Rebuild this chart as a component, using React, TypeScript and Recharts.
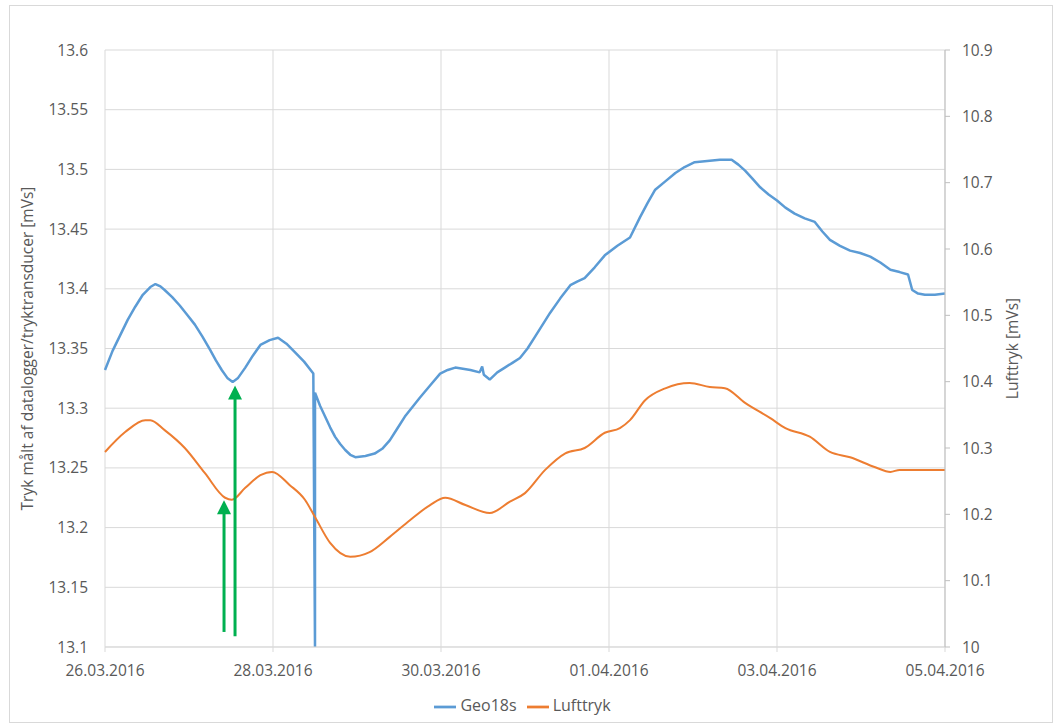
import React from 'react';
import { LineChart, Line, XAxis, YAxis, CartesianGrid, Legend, ReferenceLine } from 'recharts';

// x values are days after 26.03.2016
const geoDays = [0, 0.09, 0.18, 0.27, 0.36, 0.45, 0.54, 0.6, 0.66, 0.71, 0.8, 0.89, 0.98, 1.07, 1.16, 1.25, 1.32, 1.39, 1.46, 1.52, 1.58, 1.67, 1.76, 1.85, 1.96, 2.06, 2.16, 2.26, 2.37, 2.48, 2.5, 2.5, 2.56, 2.62, 2.68, 2.74, 2.8, 2.86, 2.92, 2.98, 3.1, 3.21, 3.3, 3.39, 3.48, 3.57, 3.66, 3.75, 3.87, 3.99, 4.08, 4.17, 4.26, 4.35, 4.46, 4.49, 4.51, 4.58, 4.67, 4.76, 4.85, 4.94, 5.03, 5.12, 5.21, 5.3, 5.42, 5.54, 5.62, 5.71, 5.83, 5.95, 6.1, 6.25, 6.37, 6.46, 6.55, 6.67, 6.79, 6.9, 7.02, 7.17, 7.32, 7.46, 7.54, 7.62, 7.71, 7.8, 7.9, 8.0, 8.1, 8.21, 8.33, 8.45, 8.54, 8.63, 8.75, 8.87, 8.99, 9.11, 9.23, 9.35, 9.46, 9.56, 9.61, 9.68, 9.76, 9.88, 10];
const geoValues = [13.332, 13.348, 13.361, 13.374, 13.385, 13.395, 13.4015, 13.404, 13.402, 13.399, 13.393, 13.386, 13.378, 13.37, 13.36, 13.349, 13.34, 13.332, 13.325, 13.322, 13.325, 13.334, 13.344, 13.353, 13.357, 13.359, 13.354, 13.347, 13.339, 13.329, 13.1, 13.313, 13.302, 13.293, 13.284, 13.276, 13.27, 13.265, 13.261, 13.259, 13.26, 13.262, 13.266, 13.273, 13.283, 13.293, 13.301, 13.309, 13.319, 13.329, 13.332, 13.334, 13.333, 13.332, 13.33, 13.335, 13.328, 13.324, 13.33, 13.334, 13.338, 13.342, 13.35, 13.36, 13.37, 13.38, 13.392, 13.403, 13.406, 13.409, 13.418, 13.428, 13.436, 13.443, 13.46, 13.472, 13.483, 13.49, 13.497, 13.502, 13.506, 13.507, 13.508, 13.508, 13.504, 13.499, 13.492, 13.485, 13.479, 13.474, 13.468, 13.463, 13.459, 13.456, 13.448, 13.441, 13.436, 13.432, 13.43, 13.427, 13.422, 13.416, 13.414, 13.412, 13.399, 13.396, 13.395, 13.395, 13.396];

const luftDays = [0, 0.24, 0.48, 0.54, 0.71, 0.95, 1.19, 1.43, 1.51, 1.67, 1.85, 1.99, 2.2, 2.38, 2.5, 2.68, 2.92, 3.15, 3.39, 3.63, 3.87, 4.05, 4.29, 4.58, 4.82, 5.0, 5.24, 5.48, 5.71, 5.95, 6.13, 6.25, 6.43, 6.67, 6.96, 7.2, 7.38, 7.62, 7.92, 8.1, 8.39, 8.63, 8.87, 9.17, 9.35, 9.46, 10];
const luftValues = [10.294, 10.324, 10.342, 10.342, 10.327, 10.3, 10.262, 10.225, 10.222, 10.24, 10.259, 10.264, 10.244, 10.222, 10.196, 10.157, 10.136, 10.143, 10.166, 10.191, 10.214, 10.225, 10.214, 10.202, 10.219, 10.232, 10.267, 10.292, 10.3, 10.323, 10.33, 10.342, 10.372, 10.39, 10.398, 10.392, 10.39, 10.368, 10.345, 10.33, 10.317, 10.294, 10.286, 10.271, 10.264, 10.267, 10.267];

const dateTicks = [0, 2, 4, 6, 8, 10];
const dateLabels = ['26.03.2016', '28.03.2016', '30.03.2016', '01.04.2016', '03.04.2016', '05.04.2016'];
const leftTicks = [13.1, 13.15, 13.2, 13.25, 13.3, 13.35, 13.4, 13.45, 13.5, 13.55, 13.6];
const rightTicks = [10, 10.1, 10.2, 10.3, 10.4, 10.5, 10.6, 10.7, 10.8, 10.9];

// green arrows: [day, from, to] on the left axis
const arrows = [
  [1.417, 13.1126, 13.223],
  [1.548, 13.109, 13.319],
];

const geoData = geoDays.map((d, i) => ({ d, v: geoValues[i] }));
const luftData = luftDays.map((d, i) => ({ d, v: luftValues[i] }));

const GREEN = '#00B050';
const TXT = '#595959';
const FONT = '"Open Sans", sans-serif';

const Arrow = (props: any) => {
  const { x1, y1, x2, y2 } = props;
  const tipY = Math.min(y1, y2);
  const baseY = Math.max(y1, y2);
  const x = x1;
  return (
    <g>
      <line x1={x} y1={baseY} x2={x2} y2={tipY + 12} stroke={GREEN} strokeWidth={3} />
      <polygon points={`${x},${tipY} ${x - 7},${tipY + 14} ${x + 7},${tipY + 14}`} fill={GREEN} />
    </g>
  );
};

export default function App() {
  return (
    <div style={{ position: 'absolute', left: 0, top: 0, width: 1055, height: 726, background: '#fff', fontFamily: FONT }}>
      <div style={{ position: 'absolute', left: 9, top: 5, width: 1042, height: 716, border: '1px solid #d9d9d9' }} />
      <LineChart width={1055} height={726} margin={{ top: 50, right: 0, bottom: 19, left: 0 }}>
        <CartesianGrid yAxisId="left" stroke="#d9d9d9" strokeWidth={1} />
        <XAxis
          type="number"
          dataKey="d"
          domain={[0, 10]}
          ticks={dateTicks}
          tickFormatter={(v: number) => dateLabels[dateTicks.indexOf(v)]}
          height={30}
          tickSize={5}
          tickMargin={13}
          stroke="#d9d9d9"
          tick={{ fill: TXT, fontSize: 15.5, fontFamily: FONT }}
          allowDuplicatedCategory={false}
        />
        <YAxis
          yAxisId="left"
          orientation="left"
          domain={[13.1, 13.6]}
          ticks={leftTicks}
          width={105}
          axisLine={false}
          tickLine={false}
          tickSize={5}
          tickMargin={12}
          tick={{ fill: TXT, fontSize: 15.5, fontFamily: FONT }}
          label={{ value: 'Tryk målt af datalogger/tryktransducer [mVs]', angle: -90, position: 'insideLeft', dx: 22, fill: TXT, fontSize: 15.5, fontFamily: FONT, style: { textAnchor: 'middle' } }}
        />
        <YAxis
          yAxisId="right"
          orientation="right"
          domain={[10, 10.9]}
          ticks={rightTicks}
          width={110}
          stroke="#bfbfbf"
          tickSize={5}
          tickMargin={12}
          tick={{ fill: TXT, fontSize: 15.5, fontFamily: FONT }}
          label={{ value: 'Lufttryk [mVs]', angle: -90, position: 'insideRight', dx: -38, fill: TXT, fontSize: 15.5, fontFamily: FONT, style: { textAnchor: 'middle' } }}
        />
        <Line
          yAxisId="left"
          data={geoData}
          dataKey="v"
          name="Geo18s"
          type="linear"
          stroke="#5B9BD5"
          strokeWidth={2.5}
          strokeLinejoin="bevel"
          dot={false}
          legendType="plainline"
          isAnimationActive={false}
        />
        <Line
          yAxisId="right"
          data={luftData}
          dataKey="v"
          name="Lufttryk"
          type="monotone"
          stroke="#ED7D31"
          strokeWidth={2}
          dot={false}
          legendType="plainline"
          isAnimationActive={false}
        />
        {arrows.map((a, i) => (
          <ReferenceLine
            key={i}
            yAxisId="left"
            segment={[{ x: a[0], y: a[1] }, { x: a[0], y: a[2] }]}
            shape={Arrow}
            ifOverflow="visible"
          />
        ))}
        <Legend
          verticalAlign="bottom"
          height={30}
          iconSize={22}
          wrapperStyle={{ bottom: 2, fontSize: 16, fontFamily: FONT }}
          formatter={(v: string) => <span style={{ color: TXT }}>{v}</span>}
        />
      </LineChart>
    </div>
  );
}
